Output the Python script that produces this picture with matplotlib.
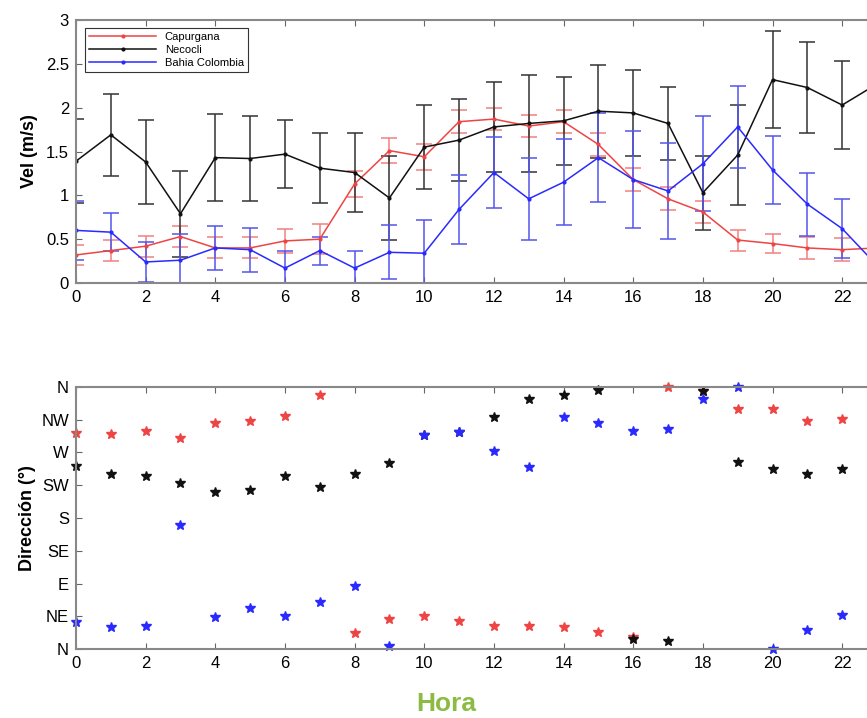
import numpy as np
import matplotlib
matplotlib.use('Agg')
import matplotlib.pyplot as plt

plt.rcParams['font.family'] = ['Liberation Sans', 'DejaVu Sans']

# hourly mean speed (m/s) and std dev
hora = list(range(24))
vel_capurgana = [0.32, 0.37, 0.42, 0.53, 0.40, 0.40, 0.48, 0.50, 1.13, 1.51, 1.44, 1.84,
                 1.87, 1.79, 1.84, 1.58, 1.18, 0.96, 0.81, 0.49, 0.45, 0.40, 0.38, 0.40]
err_capurgana = [0.11, 0.12, 0.12, 0.12, 0.12, 0.12, 0.14, 0.17, 0.15, 0.14, 0.15, 0.13,
                 0.13, 0.13, 0.13, 0.13, 0.13, 0.13, 0.13, 0.12, 0.11, 0.13, 0.13, 0.13]
vel_necocli = [1.39, 1.69, 1.38, 0.79, 1.43, 1.42, 1.47, 1.31, 1.26, 0.97, 1.55, 1.63,
               1.78, 1.82, 1.85, 1.96, 1.94, 1.82, 1.03, 1.46, 2.32, 2.23, 2.03, 2.27]
err_necocli = [0.48, 0.47, 0.48, 0.49, 0.50, 0.49, 0.39, 0.40, 0.45, 0.48, 0.48, 0.47,
               0.51, 0.55, 0.50, 0.53, 0.49, 0.42, 0.42, 0.57, 0.55, 0.52, 0.50, 0.50]
vel_bahia = [0.60, 0.58, 0.24, 0.26, 0.40, 0.38, 0.17, 0.37, 0.17, 0.35, 0.34, 0.84,
             1.26, 0.96, 1.15, 1.43, 1.18, 1.05, 1.36, 1.78, 1.29, 0.90, 0.62, 0.20]
err_bahia = [0.34, 0.22, 0.23, 0.30, 0.25, 0.25, 0.20, 0.16, 0.20, 0.31, 0.38, 0.39,
             0.41, 0.47, 0.49, 0.51, 0.55, 0.55, 0.54, 0.47, 0.39, 0.36, 0.34, 0.30]

# hourly direction (degrees), hours 0-22
hora_dir = list(range(23))
dir_capurgana = [296, 295, 299, 289, 310, 313, 320, 348, 23, 41, 45, 39,
                 32, 32, 31, 24, 17, 360, 354, 330, 329, 313, 316]
dir_necocli = [251, 241, 238, 228, 215, 218, 238, 222, 241, 256, 294, 298,
               319, 343, 349, 356, 14, 11, 354, 257, 247, 240, 247]
dir_bahia = [38, 31, 32, 170, 44, 56, 45, 65, 87, 4, 294, 298,
             272, 250, 319, 310, 299, 302, 343, 359, 0, 27, 47]

dir_ticks = [0, 45, 90, 135, 180, 225, 270, 315, 360]
dir_labels = ['N', 'NE', 'E', 'SE', 'S', 'SW', 'W', 'NW', 'N']

series = [('Capurgana', vel_capurgana, err_capurgana, dir_capurgana, '#ee4444', '#f08080'),
          ('Necocli', vel_necocli, err_necocli, dir_necocli, '#111111', '#333333'),
          ('Bahia Colombia', vel_bahia, err_bahia, dir_bahia, '#2a2aff', '#5555ee')]

W, H = 867, 718
fig = plt.figure(figsize=(W / 100, H / 100), dpi=100)
ax1 = fig.add_axes([76 / W, 1 - 283 / H, 801 / W, 263 / H])
ax2 = fig.add_axes([76 / W, 1 - 649.3 / H, 801 / W, 262.6 / H])

handles = []
for name, v, e, d, c, ec in series:
    eb = ax1.errorbar(hora, v, yerr=e, color=c, ecolor=ec, elinewidth=1.1, capsize=6,
                      capthick=1.1, marker='.', markersize=4, linewidth=1.1, label=name)
    handles.append(eb[0])
    ax2.plot(hora_dir, d, linestyle='none', marker='*', markersize=7, color=c,
             clip_on=False)

ax1.set_xlim(0, 23)
ax1.set_ylim(0, 3)
ax1.set_yticks(np.arange(0, 3.01, 0.5))
ax1.set_yticklabels(['0', '0.5', '1', '1.5', '2', '2.5', '3'])
ax1.set_ylabel('Vel (m/s)', fontsize=13, fontweight='bold', labelpad=6)
leg = ax1.legend(handles, [s[0] for s in series], loc='upper left',
                 bbox_to_anchor=(0.011, 0.97), borderaxespad=0, fontsize=8,
                 handlelength=6, fancybox=False, framealpha=1,
                 edgecolor='#333333', labelspacing=0.25, borderpad=0.4)
leg.get_frame().set_linewidth(0.8)

ax2.set_xlim(0, 23)
ax2.set_ylim(0, 360)
ax2.set_yticks(dir_ticks)
ax2.set_yticklabels(dir_labels)
ax2.set_ylabel('Dirección (°)', fontsize=13, fontweight='bold', labelpad=4)

for ax in (ax1, ax2):
    ax.set_xticks(range(0, 23, 2))
    ax.tick_params(direction='in', top=True, right=True, length=4, width=0.8,
                   labelsize=12, pad=5, color='#666666')
    for sp in ax.spines.values():
        sp.set_color('#888888')
        sp.set_linewidth(1.5)

fig.text(446 / W, 1 - 711 / H, 'Hora', color='#8cbb44', fontsize=19,
         fontweight='bold', ha='center', va='baseline')

fig.savefig('out.png', dpi=100)
